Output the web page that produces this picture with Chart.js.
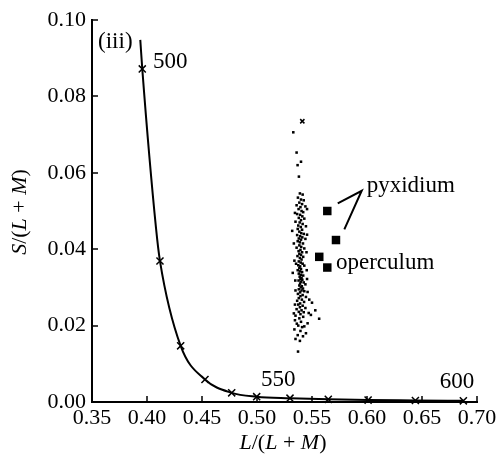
<!DOCTYPE html>
<html>
<head>
<meta charset="utf-8">
<script src="https://cdn.jsdelivr.net/npm/chart.js@4"></script>
<style>
  body { margin: 0; background: #fff; }
  #wrap { width: 497px; height: 462px; }
</style>
</head>
<body>
<div id="wrap"><canvas id="myChart" width="497" height="462"></canvas></div>
<script>
// spectrum locus (smooth curve)
const locusX = [0.3939, 0.3957, 0.4082, 0.4118, 0.4306, 0.4527, 0.4770, 0.4997, 0.5300, 0.5648, 0.6010, 0.6440, 0.6876];
const locusY = [0.0948, 0.0872, 0.0455, 0.0369, 0.0147, 0.0059, 0.0024, 0.0014, 0.0010, 0.0007, 0.0005, 0.0004, 0.0003];

// 10 nm marks on the locus (500 ... 600 nm)
const markX = [0.3957, 0.4118, 0.4306, 0.4527, 0.4770, 0.4997, 0.5300, 0.5648, 0.6010, 0.6440, 0.6876];
const markY = [0.0872, 0.0369, 0.0147, 0.0059, 0.0024, 0.0014, 0.0010, 0.0007, 0.0005, 0.0004, 0.0003];

// background cloud
const cloud = [
  [0.5330,0.0706],[0.5360,0.0653],[0.5400,0.0629],[0.5369,0.0620],[0.5381,0.0590],
  [0.5390,0.0546],[0.5415,0.0543],[0.5372,0.0535],[0.5400,0.0530],[0.5425,0.0528],[0.5385,0.0522],[0.5410,0.0518],[0.5360,0.0515],[0.5395,0.0510],[0.5440,0.0512],[0.5378,0.0505],[0.5405,0.0500],[0.5420,0.0497],
  [0.5365,0.0492],[0.5392,0.0490],[0.5412,0.0486],[0.5380,0.0482],[0.5430,0.0480],[0.5400,0.0476],[0.5350,0.0472],[0.5388,0.0470],[0.5415,0.0466],[0.5375,0.0462],[0.5398,0.0458],[0.5445,0.0460],[0.5370,0.0453],[0.5410,0.0451],
  [0.5320,0.0448],[0.5385,0.0446],[0.5402,0.0442],[0.5425,0.0440],[0.5365,0.0437],[0.5392,0.0434],[0.5412,0.0431],[0.5380,0.0428],[0.5400,0.0425],[0.5440,0.0427],[0.5370,0.0421],[0.5390,0.0418],[0.5418,0.0415],[0.5385,0.0410],[0.5402,0.0406],[0.5360,0.0404],[0.5430,0.0402],
  [0.5395,0.0398],[0.5378,0.0395],[0.5410,0.0392],[0.5385,0.0388],[0.5400,0.0385],[0.5368,0.0382],[0.5420,0.0380],[0.5390,0.0377],[0.5405,0.0373],[0.5340,0.0370],[0.5380,0.0368],[0.5398,0.0365],[0.5415,0.0362],[0.5375,0.0358],[0.5392,0.0355],[0.5430,0.0357],[0.5385,0.0351],
  [0.5400,0.0348],[0.5370,0.0345],[0.5390,0.0342],[0.5410,0.0340],[0.5325,0.0338],[0.5380,0.0336],[0.5398,0.0333],[0.5420,0.0331],[0.5388,0.0328],[0.5405,0.0325],[0.5395,0.0322],[0.5412,0.0320],[0.5378,0.0318],[0.5400,0.0315],[0.5425,0.0313],[0.5392,0.0310],[0.5440,0.0308],[0.5385,0.0305],[0.5408,0.0303],[0.5398,0.0300],
  [0.5418,0.0297],[0.5380,0.0295],[0.5405,0.0292],[0.5430,0.0290],[0.5392,0.0287],[0.5460,0.0288],[0.5372,0.0283],[0.5415,0.0280],[0.5395,0.0277],[0.5445,0.0275],[0.5380,0.0272],[0.5408,0.0268],[0.5365,0.0265],[0.5428,0.0262],[0.5392,0.0258],[0.5500,0.0260],[0.5375,0.0255],[0.5415,0.0252],
  [0.5390,0.0248],[0.5440,0.0246],[0.5360,0.0243],[0.5405,0.0240],[0.5530,0.0240],[0.5380,0.0236],[0.5470,0.0233],[0.5395,0.0230],[0.5350,0.0226],[0.5420,0.0223],[0.5385,0.0219],[0.5565,0.0218],[0.5345,0.0214],[0.5400,0.0210],[0.5460,0.0206],
  [0.5375,0.0200],[0.5410,0.0196],[0.5340,0.0190],[0.5395,0.0186],[0.5445,0.0180],[0.5370,0.0175],[0.5350,0.0165],[0.5390,0.0160],[0.5373,0.0132],
  [0.5455,0.0505],[0.5345,0.0495],[0.5455,0.0438],[0.5335,0.0415],[0.5450,0.0392],[0.5355,0.0362],[0.5452,0.0345],[0.5348,0.0318],[0.5455,0.0322],
  [0.5350,0.0292],[0.5475,0.0268],[0.5345,0.0255],[0.5425,0.0235],[0.5335,0.0232],[0.5490,0.0228],[0.5430,0.0198],[0.5362,0.0205],[0.5418,0.0172]
];
const cloudCross = [[0.5412, 0.0735]];

const pyxidium = [[0.5639, 0.0500], [0.5718, 0.0424]];
const operculum = [[0.5566, 0.0380], [0.5639, 0.0352]];
const pointer = [[0.5734, 0.0520], [0.5952, 0.0553], [0.5794, 0.0452]];

const xTicks = [0.35, 0.40, 0.45, 0.50, 0.55, 0.60, 0.65, 0.70];
const yTicks = [0.00, 0.02, 0.04, 0.06, 0.08, 0.10];

// text labels in data units
const notes = [
  {text: '(iii)', x: 0.3555, y: 0.0942, align: 'left'},
  {text: '500', x: 0.4055, y: 0.0890, align: 'left'},
  {text: '550', x: 0.5194, y: 0.0058, align: 'center'},
  {text: '600', x: 0.6818, y: 0.0053, align: 'center'},
  {text: 'pyxidium', x: 0.5997, y: 0.0566, align: 'left'},
  {text: 'operculum', x: 0.5718, y: 0.0364, align: 'left'}
];

const serif = "'Liberation Serif', 'Times New Roman', serif";
const toPts = arr => arr.map(p => ({x: p[0], y: p[1]}));

const extras = {
  id: 'extras',
  afterDatasetsDraw(chart) {
    const {ctx, scales: {x, y}} = chart;
    ctx.save();
    // inward ticks
    ctx.strokeStyle = '#000';
    ctx.lineWidth = 1.5;
    ctx.beginPath();
    xTicks.forEach(v => {
      const px = Math.round(x.getPixelForValue(v));
      ctx.moveTo(px, y.bottom);
      ctx.lineTo(px, y.bottom - 6);
    });
    yTicks.forEach(v => {
      const py = Math.round(y.getPixelForValue(v));
      ctx.moveTo(x.left, py);
      ctx.lineTo(x.left + 6, py);
    });
    ctx.stroke();

    ctx.fillStyle = '#000';
    ctx.font = '23px ' + serif;
    ctx.textBaseline = 'middle';
    notes.forEach(n => {
      ctx.textAlign = n.align;
      ctx.fillText(n.text, x.getPixelForValue(n.x), y.getPixelForValue(n.y));
    });

    // axis titles with italic variables
    const drawMixed = (parts, cx, cy, rot) => {
      ctx.save();
      ctx.translate(cx, cy);
      ctx.rotate(rot);
      ctx.textAlign = 'left';
      ctx.textBaseline = 'middle';
      let w = 0;
      parts.forEach(p => {
        ctx.font = (p[1] ? 'italic ' : '') + '22px ' + serif;
        w += ctx.measureText(p[0]).width;
      });
      let pos = -w / 2;
      parts.forEach(p => {
        ctx.font = (p[1] ? 'italic ' : '') + '22px ' + serif;
        ctx.fillText(p[0], pos, 0);
        pos += ctx.measureText(p[0]).width;
      });
      ctx.restore();
    };
    drawMixed([['S', 1], ['/(', 0], ['L', 1], [' + ', 0], ['M', 1], [')', 0]], 20, 212, -Math.PI / 2);
    drawMixed([['L', 1], ['/(', 0], ['L', 1], [' + ', 0], ['M', 1], [')', 0]], 283, 443, 0);
    ctx.restore();
  }
};

const ctx = document.getElementById('myChart');
new Chart(ctx, {
  type: 'scatter',
  data: {
    datasets: [
      {
        data: locusX.map((v, i) => ({x: v, y: locusY[i]})),
        showLine: true,
        cubicInterpolationMode: 'monotone',
        borderColor: '#000',
        borderWidth: 2,
        pointRadius: 0,
        clip: false
      },
      {
        data: markX.map((v, i) => ({x: v, y: markY[i]})),
        pointStyle: 'crossRot',
        pointRadius: 5,
        borderColor: '#000',
        borderWidth: 1.5,
        clip: false
      },
      {
        data: toPts(cloud),
        pointStyle: 'rect',
        pointRadius: 1.8,
        backgroundColor: '#000',
        borderWidth: 0
      },
      {
        data: toPts(cloudCross),
        pointStyle: 'crossRot',
        pointRadius: 3,
        borderColor: '#000',
        borderWidth: 1.5
      },
      {
        data: toPts(pyxidium).concat(toPts(operculum)),
        pointStyle: 'rect',
        pointRadius: 6,
        backgroundColor: '#000',
        borderWidth: 0
      },
      {
        data: toPts(pointer),
        showLine: true,
        borderColor: '#000',
        borderWidth: 2,
        pointRadius: 0
      }
    ]
  },
  options: {
    responsive: false,
    animation: false,
    layout: { padding: { left: 0, top: 20, right: 20, bottom: 0 } },
    plugins: { legend: { display: false }, tooltip: { enabled: false } },
    scales: {
      x: {
        type: 'linear',
        min: 0.35,
        max: 0.70,
        afterBuildTicks: s => { s.ticks = xTicks.map(v => ({value: v})); },
        afterFit: s => { s.height = 60; s.paddingLeft = 0; s.paddingRight = 0; },
        grid: { display: true, drawOnChartArea: false, drawTicks: false },
        border: { display: true, color: '#000', width: 2 },
        ticks: {
          color: '#000',
          padding: 3,
          maxRotation: 0,
          font: { family: serif, size: 22 },
          callback: v => v.toFixed(2)
        }
      },
      y: {
        type: 'linear',
        min: 0,
        max: 0.10,
        afterBuildTicks: s => { s.ticks = yTicks.map(v => ({value: v})); },
        afterFit: s => { s.width = 92; },
        grid: { display: true, drawOnChartArea: false, drawTicks: false },
        border: { display: true, color: '#000', width: 2 },
        ticks: {
          color: '#000',
          padding: 6,
          font: { family: serif, size: 22 },
          callback: v => v.toFixed(2)
        }
      }
    }
  },
  plugins: [extras]
});
</script>
</body>
</html>
